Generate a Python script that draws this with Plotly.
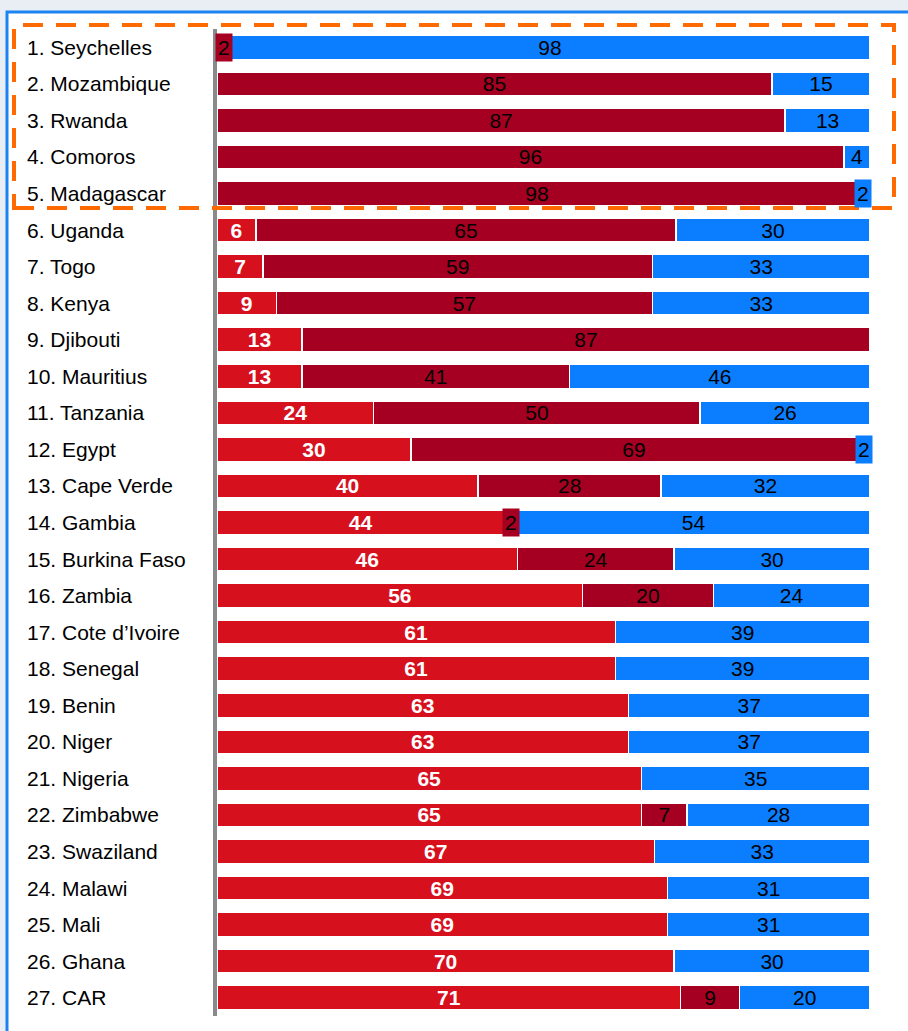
import plotly.graph_objects as go

countries = ["1. Seychelles", "2. Mozambique", "3. Rwanda", "4. Comoros", "5. Madagascar",
             "6. Uganda", "7. Togo", "8. Kenya", "9. Djibouti", "10. Mauritius",
             "11. Tanzania", "12. Egypt", "13. Cape Verde", "14. Gambia", "15. Burkina Faso",
             "16. Zambia", "17. Cote d\u2019Ivoire", "18. Senegal", "19. Benin", "20. Niger",
             "21. Nigeria", "22. Zimbabwe", "23. Swaziland", "24. Malawi", "25. Mali",
             "26. Ghana", "27. CAR"]
red_vals = [None, None, None, None, None, 6, 7, 9, 13, 13, 24, 30, 40, 44, 46, 56, 61, 61, 63, 63,
            65, 65, 67, 69, 69, 70, 71]
darkred_vals = [2, 85, 87, 96, 98, 65, 59, 57, 87, 41, 50, 69, 28, 2, 24, 20, None, None, None, None,
                None, 7, None, None, None, None, 9]
blue_vals = [98, 15, 13, 4, 2, 30, 33, 33, None, 46, 26, 2, 32, 54, 30, 24, 39, 39, 37, 37,
             35, 28, 33, 31, 31, 30, 20]

RED = "#D7101E"
DARK = "#A50021"
BLUE = "#0A7EFF"
W, H = 908, 1031
ML, MR, MT, MB = 217, 38, 29, 15
PW, PH = W - ML - MR, H - MT - MB
FONT = "Arial, Liberation Sans, sans-serif"
FS = 21
SMALL = 3  # values below this get a boxed label


def px_x(p):
    return (p - ML) / PW


def px_y(p):
    return (H - MB - p) / PH


def texts(vals):
    return ["" if (v is None or v < SMALL) else str(v) for v in vals]


fig = go.Figure()
series = [("Red", red_vals, RED, "white", True),
          ("Dark red", darkred_vals, DARK, "black", False),
          ("Blue", blue_vals, BLUE, "black", False)]
for name, vals, col, tcol, bold in series:
    fig.add_trace(go.Bar(
        name=name, y=countries, x=vals, orientation="h",
        marker=dict(color=col, line=dict(color="white", width=1.5)),
        text=texts(vals), textposition="inside", insidetextanchor="middle", textangle=0,
        insidetextfont=dict(family=FONT, size=FS, color=tcol, weight="bold" if bold else "normal"),
        hoverinfo="skip",
    ))

annotations = []
# boxed labels for tiny segments (positions follow the percent-normalised stack)
for i, c in enumerate(countries):
    total = sum(s[1][i] or 0 for s in series)
    base = 0
    for name, vals, col, tcol, bold in series:
        v = vals[i]
        if v is None:
            continue
        if v < SMALL:
            annotations.append(dict(x=(base + v / 2) / total * 100, y=c, xref="x", yref="y",
                                    text=str(v), showarrow=False, bgcolor=col, borderpad=2,
                                    font=dict(family=FONT, size=FS, color=tcol)))
        base += v

# country labels, left aligned
for c in countries:
    annotations.append(dict(x=px_x(25), y=c, xref="paper", yref="y", text=c, showarrow=False,
                            xanchor="left", font=dict(family=FONT, size=FS, color="black")))

shapes = [
    dict(type="rect", xref="paper", yref="paper", x0=px_x(7), x1=px_x(W + 20), y0=px_y(H + 20),
         y1=px_y(12), line=dict(color="#1C84F2", width=3), fillcolor="white", layer="below"),
    dict(type="rect", xref="paper", yref="paper", x0=px_x(14), x1=px_x(894), y0=px_y(208),
         y1=px_y(25), line=dict(color="#FF6A00", width=4, dash="20px,13px"),
         fillcolor="rgba(0,0,0,0)", layer="above"),
]

fig.update_layout(
    barmode="stack", barnorm="percent", bargap=0.34, showlegend=False,
    width=W, height=H, margin=dict(l=ML, r=MR, t=MT, b=MB, autoexpand=False),
    paper_bgcolor="#E8EEF3", plot_bgcolor="rgba(0,0,0,0)",
    uniformtext=dict(minsize=FS, mode="show"),
    xaxis=dict(range=[0, 100], visible=False, fixedrange=True),
    yaxis=dict(autorange="reversed", showticklabels=False, showgrid=False, ticks="",
               showline=True, linewidth=4, linecolor="#8A8A8A", zeroline=False, fixedrange=True),
    annotations=annotations, shapes=shapes,
    font=dict(family=FONT),
)
fig.write_html("out.html", config={"displayModeBar": False},
               post_script="document.body.style.margin='0px';document.body.style.overflow='hidden';")
